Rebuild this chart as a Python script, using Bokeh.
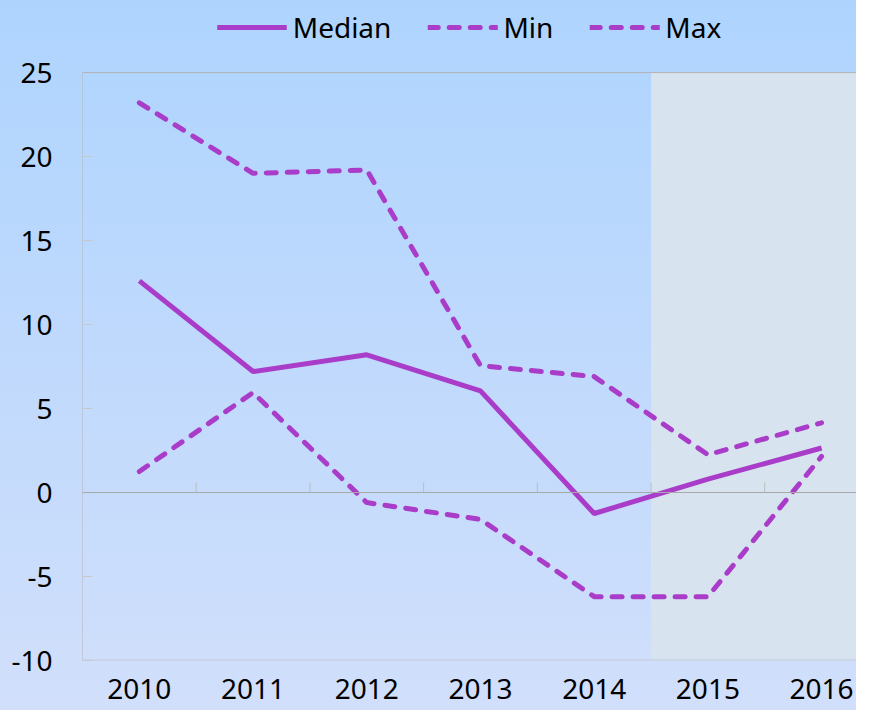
from bokeh.plotting import figure
from bokeh.models import Range1d, Span, BoxAnnotation, Legend, LegendItem
from bokeh.embed import file_html
from bokeh.resources import INLINE

# ---- data ----
years = [2010, 2011, 2012, 2013, 2014, 2015, 2016]
median = [12.6, 7.2, 8.2, 6.05, -1.25, 0.8, 2.65]
minimum = [1.25, 5.95, -0.6, -1.6, -6.2, -6.2, 2.15]
maximum = [23.2, 19.0, 19.2, 7.55, 6.9, 2.25, 4.15]
y_ticks = [-10, -5, 0, 5, 10, 15, 20, 25]
y_min, y_max = -10, 25
shade_start = 2014.5          # projection period start (boundary 2014|2015)

PURPLE = "#a93cc8"
FONT = "Noto Sans"
FS = "28px"
W, H = 856, 710
X0 = 2009.5

# frame spans the legend strip too; plot area is y_min..y_max
p = figure(width=W, height=H, output_backend="svg", toolbar_location=None,
           x_range=Range1d(X0, 2016.307), y_range=Range1d(y_min, 29.29),
           min_border_left=82, min_border_right=0, min_border_top=0,
           min_border_bottom=50)

# background gradient (CSS on the figure element, canvas transparent)
p.styles = {"background": "linear-gradient(to bottom, #aed4fe 0%, #d1dffb 100%)"}
p.border_fill_alpha = 0
p.background_fill_alpha = 0
p.outline_line_color = None

# shaded projection region
p.add_layout(BoxAnnotation(left=shade_start, top=y_max, fill_color="#d7e4ef",
                           fill_alpha=1, line_color=None, level="underlay"))

# plot-area border (top, left, bottom)
p.add_layout(Span(location=y_max, dimension="width", line_color="#b4b4b4", line_width=1))
p.add_layout(Span(location=y_min, dimension="width", line_color="#c3cad8", line_width=2))
p.segment(x0=[X0], y0=[y_min], x1=[X0], y1=[y_max], line_color="#b3b3b3", line_width=1)

# zero line and category boundary ticks
p.add_layout(Span(location=0, dimension="width", line_color="#a8a8a8", line_width=1))
bounds = [y + 0.5 for y in years[:-1]]
p.segment(x0=bounds, y0=[0] * len(bounds), x1=bounds, y1=[0.6] * len(bounds),
          line_color="#bdbdbd", line_width=1)

# series
r_med = p.line(years, median, line_color=PURPLE, line_width=5)
r_min = p.line(years, minimum, line_color=PURPLE, line_width=5,
               line_dash="10 11", line_cap="round")
r_max = p.line(years, maximum, line_color=PURPLE, line_width=5,
               line_dash="10 11", line_cap="round")

# axes
p.xgrid.visible = False
p.ygrid.visible = False

p.yaxis.ticker = y_ticks
p.yaxis.major_label_overrides = {t: str(t) for t in y_ticks}
p.yaxis.major_tick_in = 10
p.yaxis.major_tick_out = 0
p.yaxis.minor_tick_line_color = None
p.yaxis.axis_line_color = None
p.yaxis.major_tick_line_color = "#c8c8c8"
p.yaxis.major_label_text_font = FONT
p.yaxis.major_label_text_font_size = FS
p.yaxis.major_label_text_color = "#000000"
p.yaxis.major_label_standoff = 30

p.xaxis.ticker = years
p.xaxis.axis_line_color = None
p.xaxis.major_tick_line_color = None
p.xaxis.minor_tick_line_color = None
p.xaxis.major_label_text_font = FONT
p.xaxis.major_label_text_font_size = FS
p.xaxis.major_label_text_color = "#000000"
p.xaxis.major_label_standoff = 12

legend = Legend(items=[LegendItem(label="Median", renderers=[r_med]),
                       LegendItem(label="Min", renderers=[r_min]),
                       LegendItem(label="Max", renderers=[r_max])],
                orientation="horizontal", location="top_center",
                border_line_color=None, background_fill_alpha=0,
                label_text_font=FONT, label_text_font_size=FS,
                label_text_color="#000000",
                glyph_width=70, glyph_height=30, label_standoff=6,
                spacing=36, padding=0, margin=8)
p.add_layout(legend, "center")

open("out.html", "w").write(file_html(p, INLINE))
